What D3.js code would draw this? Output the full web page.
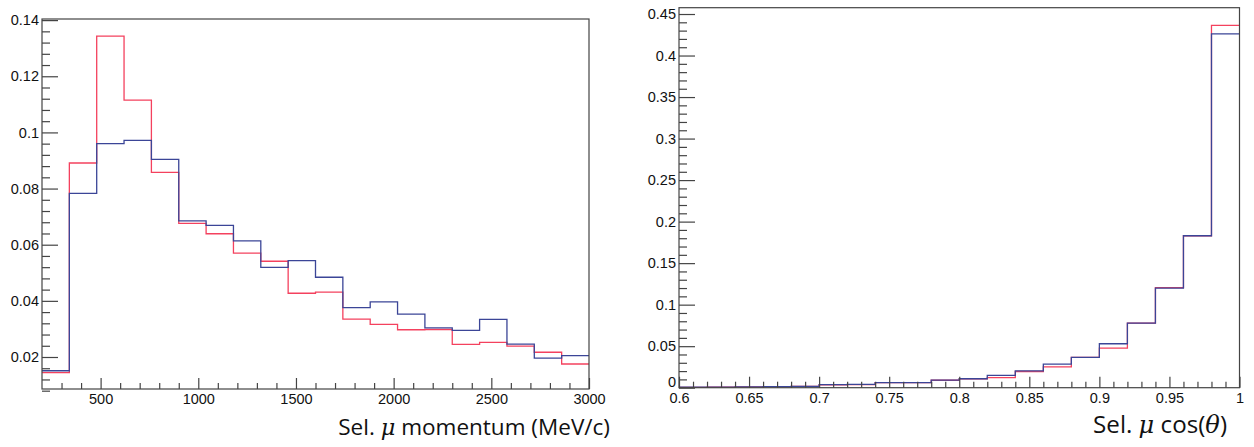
<!DOCTYPE html>
<html>
<head>
<meta charset="utf-8">
<script src="https://cdn.jsdelivr.net/npm/d3@7/dist/d3.min.js"></script>
<style>
  html, body { margin: 0; padding: 0; background: #fff; }
  svg { display: block; }
  .title { font-family: "Open Sans", "Liberation Sans", sans-serif; fill: #111; }
</style>
</head>
<body>
<svg id="chart" width="1254" height="447"></svg>
<script>
// ---------- DATA ----------
// Left: selected muon momentum, 20 bins 200..3000 MeV/c
const momEdges = d3.range(200, 3001, 140);
const momRed  = [0.0144, 0.0891, 0.1343, 0.1115, 0.0858, 0.0676, 0.0639, 0.0570, 0.0541, 0.0427,
                 0.0431, 0.0335, 0.0316, 0.0297, 0.0298, 0.0245, 0.0252, 0.0239, 0.0217, 0.0175];
const momBlue = [0.0151, 0.0783, 0.0960, 0.0972, 0.0904, 0.0685, 0.0669, 0.0614, 0.0519, 0.0543,
                 0.0484, 0.0376, 0.0396, 0.0353, 0.0304, 0.0295, 0.0334, 0.0246, 0.0196, 0.0205];
const momTicks = [500, 1000, 1500, 2000, 2500, 3000];
const momYTicks = [0.02, 0.04, 0.06, 0.08, 0.10, 0.12, 0.14];
const momYTickLabels = ["0.02", "0.04", "0.06", "0.08", "0.1", "0.12", "0.14"];

// Right: selected muon cos(theta), 20 bins 0.6..1.0
const cosEdges = d3.range(0, 21).map(i => +(0.6 + i * 0.02).toFixed(2));
const cosRed  = [0.0005, 0.0007, 0.0010, 0.0012, 0.0015, 0.0035, 0.0038, 0.0060, 0.0060, 0.0090,
                 0.0106, 0.0122, 0.0195, 0.0250, 0.0365, 0.0477, 0.0778, 0.1206, 0.1830, 0.4364];
const cosBlue = [0.0006, 0.0008, 0.0010, 0.0013, 0.0016, 0.0036, 0.0039, 0.0061, 0.0061, 0.0092,
                 0.0108, 0.0148, 0.0202, 0.0284, 0.0365, 0.0529, 0.0778, 0.1198, 0.1830, 0.4260];
const cosTicks = [0.6, 0.65, 0.7, 0.75, 0.8, 0.85, 0.9, 0.95, 1.0];
const cosTickLabels = ["0.6", "0.65", "0.7", "0.75", "0.8", "0.85", "0.9", "0.95", "1"];
const cosYTicks = [0, 0.05, 0.1, 0.15, 0.2, 0.25, 0.3, 0.35, 0.4, 0.45];
const cosYTickLabels = ["0", "0.05", "0.1", "0.15", "0.2", "0.25", "0.3", "0.35", "0.4", "0.45"];

const RED = "#f4415e";
const BLUE = "#3b4597";

const svg = d3.select("#chart");

function styleLabels(sel) {
  sel.attr("fill", "#111")
    .style("font-family", "'Liberation Sans', Arial, sans-serif")
    .style("font-size", "14.5px");
}

function panel(opts) {
  const g = svg.append("g");
  const x = d3.scaleLinear().domain(opts.xDomain).range([opts.left, opts.right]);
  const y = d3.scaleLinear().domain(opts.yDomain).range([opts.bottom, opts.top]);

  const clipId = "clip" + opts.id;
  svg.append("clipPath").attr("id", clipId).append("rect")
    .attr("x", opts.left).attr("y", opts.top)
    .attr("width", opts.right - opts.left).attr("height", opts.bottom - opts.top);

  // histograms
  const line = d3.line().x(d => x(d[0])).y(d => y(d[1])).curve(d3.curveStepAfter);
  function hist(vals, color) {
    const pts = vals.map((v, i) => [opts.edges[i], v]);
    pts.push([opts.edges[opts.edges.length - 1], vals[vals.length - 1]]);
    g.append("path").attr("d", line(pts)).attr("fill", "none")
      .attr("stroke", color).attr("stroke-width", 1.3)
      .attr("clip-path", `url(#${clipId})`);
  }
  hist(opts.red, RED);
  hist(opts.blue, BLUE);

  // frame
  g.append("rect").attr("x", opts.left).attr("y", opts.top)
    .attr("width", opts.right - opts.left).attr("height", opts.bottom - opts.top)
    .attr("fill", "none").attr("stroke", "#444").attr("stroke-width", 1.2);

  // x axis ticks (inward)
  const xAxis = d3.axisBottom(x).tickValues(opts.xMinor).tickSize(-6).tickFormat("");
  const xa = g.append("g").attr("transform", `translate(0,${opts.bottom})`).call(xAxis);
  xa.select(".domain").remove();
  const xAxisMaj = d3.axisBottom(x).tickValues(opts.xTicks).tickSize(-11)
    .tickFormat((d, i) => opts.xTickLabels[i]);
  const xb = g.append("g").attr("transform", `translate(0,${opts.bottom})`).call(xAxisMaj);
  xb.select(".domain").remove();
  xa.selectAll("line").attr("stroke", "#444").attr("stroke-width", 1.2);
  xb.selectAll("line").attr("stroke", "#444").attr("stroke-width", 1.2);
  styleLabels(xb.selectAll("text").attr("y", 5).attr("dy", "0.71em"));

  // y axis ticks (inward)
  const yAxis = d3.axisLeft(y).tickValues(opts.yMinor).tickSize(-8).tickFormat("");
  const ya = g.append("g").attr("transform", `translate(${opts.left},0)`).call(yAxis);
  ya.select(".domain").remove();
  const yAxisMaj = d3.axisLeft(y).tickValues(opts.yTicks).tickSize(-16)
    .tickFormat((d, i) => opts.yTickLabels[i]);
  const yb = g.append("g").attr("transform", `translate(${opts.left},0)`).call(yAxisMaj);
  yb.select(".domain").remove();
  ya.selectAll("line").attr("stroke", "#444").attr("stroke-width", 1.2);
  yb.selectAll("line").attr("stroke", "#444").attr("stroke-width", 1.2);
  styleLabels(yb.selectAll("text").attr("x", -3));
  if (opts.liftZero) {
    yb.selectAll("text").filter(d => d === 0).attr("dy", "-0.05em");
  }

  // title
  const t = g.append("text").attr("class", "title")
    .attr("x", opts.titleX).attr("y", opts.titleY)
    .attr("text-anchor", "end").style("font-size", "20px");
  opts.title.forEach(p => {
    t.append("tspan").text(p.t).style("font-style", p.i ? "italic" : null)
      .style("font-family", p.i ? "'DejaVu Serif', serif" : null);
  });
  const w = t.node().getComputedTextLength();
  t.style("font-size", (20 * opts.titleW / w) + "px");
}

panel({
  id: "L", left: 42, right: 589, top: 19, bottom: 389,
  xDomain: [200, 3000], yDomain: [0.0086, 0.1404],
  edges: momEdges, red: momRed, blue: momBlue,
  xTicks: momTicks, xTickLabels: momTicks.map(String),
  xMinor: d3.range(300, 3000, 100).filter(v => v % 500 !== 0),
  yTicks: momYTicks, yTickLabels: momYTickLabels,
  yMinor: d3.range(0, 34).map(i => 0.008 + i * 0.004).filter(v => v < 0.1404 && Math.abs(v / 0.02 - Math.round(v / 0.02)) > 1e-6),
  title: [{t: "Sel. "}, {t: "μ", i: true}, {t: " momentum (MeV/c)"}],
  titleX: 610, titleY: 435, titleW: 272
});

panel({
  id: "R", left: 679, right: 1239.5, top: 7.7, bottom: 387.7,
  xDomain: [0.6, 1.0], yDomain: [0, 0.4576],
  edges: cosEdges, red: cosRed, blue: cosBlue,
  xTicks: cosTicks, xTickLabels: cosTickLabels,
  xMinor: d3.range(1, 40).map(i => 0.6 + i * 0.01).filter((v, i) => (i + 1) % 5 !== 0),
  yTicks: cosYTicks, yTickLabels: cosYTickLabels,
  yMinor: d3.range(1, 46).map(i => i * 0.01).filter((v, i) => (i + 1) % 5 !== 0),
  liftZero: true,
  title: [{t: "Sel. "}, {t: "μ", i: true}, {t: " cos("}, {t: "θ", i: true}, {t: ")"}],
  titleX: 1227, titleY: 433, titleW: 134
});
</script>
</body>
</html>
